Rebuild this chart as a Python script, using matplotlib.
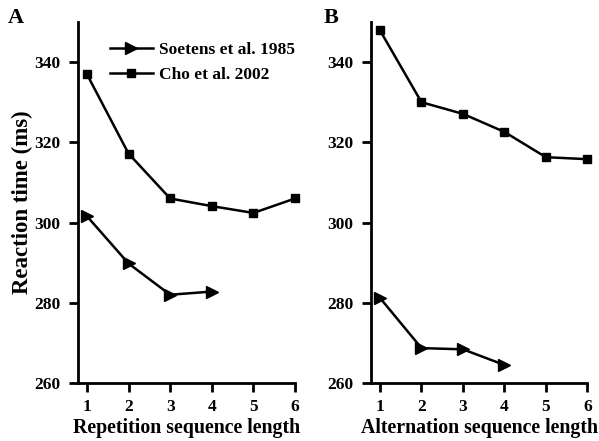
import matplotlib.pyplot as plt

plt.rcParams['font.family'] = 'Liberation Serif'
plt.rcParams['font.weight'] = 'bold'

lengths = [1, 2, 3, 4, 5, 6]
soetens_len = [1, 2, 3, 4]

# Repetition sequences
cho_rep = [337.0, 317.2, 306.0, 304.1, 302.4, 306.0]
soetens_rep = [301.6, 289.8, 282.0, 282.8]

# Alternation sequences
cho_alt = [347.9, 330.0, 327.1, 322.6, 316.3, 315.8]
soetens_alt = [281.2, 268.7, 268.4, 264.5]

fig = plt.figure(figsize=(5.99, 4.41), dpi=100)
ax_a = fig.add_axes([0.130, 0.1315, 0.3625, 0.8186])
ax_b = fig.add_axes([0.6194, 0.1315, 0.3611, 0.8186])

for ax, cho, soe, xlab in [(ax_a, cho_rep, soetens_rep, 'Repetition sequence length'),
                           (ax_b, cho_alt, soetens_alt, 'Alternation sequence length')]:
    ax.plot(soetens_len, soe, color='black', lw=1.8, marker='>', ms=8.5,
            clip_on=False, label='Soetens et al. 1985')
    ax.plot(lengths, cho, color='black', lw=1.8, marker='s', ms=6,
            clip_on=False, label='Cho et al. 2002')
    ax.set_xlim(0.783, 6)
    ax.set_ylim(260, 350)
    ax.set_xticks(lengths)
    ax.set_yticks([260, 280, 300, 320, 340])
    ax.spines['top'].set_visible(False)
    ax.spines['right'].set_visible(False)
    ax.spines['left'].set_linewidth(2)
    ax.spines['bottom'].set_linewidth(2)
    ax.tick_params(direction='out', length=6.5, width=2, labelsize=12.5)
    ax.tick_params(axis='x', pad=5)
    ax.tick_params(axis='y', pad=6)
    ax.set_xlabel(xlab, fontsize=14.3, fontweight='bold', labelpad=2)

ax_a.set_ylabel('Reaction time (ms)', fontsize=16.5, fontweight='bold', labelpad=1)
ax_a.legend(loc='upper left', bbox_to_anchor=(0.115, 0.965), frameon=False,
            fontsize=12.5, handlelength=2.5, handletextpad=0.35, labelspacing=0.55,
            borderaxespad=0)

fig.text(0.013, 0.948, 'A', fontsize=16, fontweight='bold')
fig.text(0.541, 0.948, 'B', fontsize=16, fontweight='bold')

fig.savefig('out.png', dpi=100)
